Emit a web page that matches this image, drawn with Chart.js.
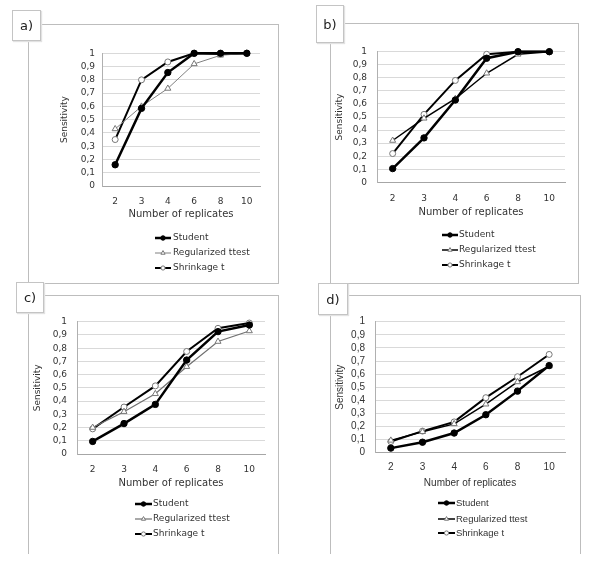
<!DOCTYPE html>
<html>
<head>
<meta charset="utf-8">
<script src="https://cdn.jsdelivr.net/npm/chart.js@4.4.1/dist/chart.umd.min.js"></script>
<style>
  html, body { margin: 0; padding: 0; background: #fff; }
  #page { position: relative; width: 600px; height: 562px; overflow: hidden; }
  .marco { position: absolute; border: 1px solid #bdbdbd; box-sizing: border-box; }
  .etiqueta { position: absolute; border: 1px solid #c4c4c4; background: #fff; box-sizing: border-box;
              font: 13px "DejaVu Sans"; color: #222; display: flex; align-items: center; justify-content: center;
              box-shadow: 1px 1px 1px #e2e2e2; }
  canvas { position: absolute; left: 0; top: 0; }
</style>
</head>
<body>
<div id="page">
  <div class="marco" style="left:28px;top:24px;width:251px;height:260px"></div>
  <div class="marco" style="left:330px;top:23px;width:249px;height:261px"></div>
  <div class="marco" style="left:28px;top:295px;width:251px;height:259px;border-bottom:none"></div>
  <div class="marco" style="left:330px;top:295px;width:251px;height:259px;border-bottom:none"></div>

  <canvas id="panelA" width="600" height="562"></canvas>
  <canvas id="panelB" width="600" height="562"></canvas>
  <canvas id="panelC" width="600" height="562"></canvas>
  <canvas id="panelD" width="600" height="562"></canvas>

  <div class="etiqueta" style="left:12px;top:10px;width:29px;height:31px">a)</div>
  <div class="etiqueta" style="left:316px;top:5px;width:28px;height:38px">b)</div>
  <div class="etiqueta" style="left:16px;top:282px;width:28px;height:31px">c)</div>
  <div class="etiqueta" style="left:318px;top:283px;width:30px;height:32px">d)</div>
</div>
<script>
// --- DATOS ---
const replicas = ['2', '3', '4', '6', '8', '10'];
const seriesNombres = ['Student', 'Regularized ttest', 'Shrinkage t'];

const studentA = [0.16, 0.585, 0.855, 1, 1, 1];
const regA     = [0.43, 0.60, 0.735, 0.92, 0.985, 1];
const shrinkA  = [0.35, 0.80, 0.935, 1, 0.995, 1];

const studentB = [0.105, 0.34, 0.63, 0.95, 1, 1];
const regB     = [0.32, 0.49, 0.64, 0.835, 0.98, 1];
const shrinkB  = [0.22, 0.52, 0.78, 0.98, 1, 1];

const studentC = [0.095, 0.23, 0.375, 0.71, 0.925, 0.975];
const regC     = [0.20, 0.32, 0.455, 0.66, 0.85, 0.93];
const shrinkC  = [0.19, 0.355, 0.515, 0.775, 0.95, 0.99];

const studentD = [0.035, 0.08, 0.15, 0.29, 0.47, 0.665];
const regD     = [0.094, 0.16, 0.22, 0.37, 0.54, 0.66];
const shrinkD  = [0.085, 0.165, 0.235, 0.42, 0.58, 0.75];

const TEXTO = '#333';
const W = 600, H = 562;

// marcador de la leyenda (mismo estilo que los puntos, algo más pequeño)
function dibujarMarcador(ctx, estilo, r, x, y) {
    ctx.beginPath();
    if (estilo === 'triangle') {
        for (let k = 0; k < 3; k++) {
            const a = -Math.PI / 2 + k * 2 * Math.PI / 3;
            const px = x + Math.cos(a) * r, py = y + Math.sin(a) * r;
            k === 0 ? ctx.moveTo(px, py) : ctx.lineTo(px, py);
        }
        ctx.closePath();
    } else {
        ctx.arc(x, y, r, 0, Math.PI * 2);
    }
    ctx.fill();
    ctx.stroke();
}

const leyendaPlugin = {
    id: 'leyendaExcel',
    afterDraw(chart) {
        const g = chart.options.plugins.leyendaExcel;
        const ctx = chart.ctx;
        ctx.save();
        chart.data.datasets.forEach((ds, i) => {
            const y = g.ys[i];
            ctx.strokeStyle = ds.borderColor;
            ctx.lineWidth = ds.borderWidth;
            ctx.beginPath(); ctx.moveTo(g.x1, y); ctx.lineTo(g.x2, y); ctx.stroke();
            ctx.fillStyle = ds.pointBackgroundColor;
            ctx.strokeStyle = ds.pointBorderColor;
            ctx.lineWidth = ds.pointBorderWidth;
            dibujarMarcador(ctx, ds.pointStyle, ds.pointRadius * 0.7, (g.x1 + g.x2) / 2, y);
            ctx.fillStyle = TEXTO;
            ctx.font = g.size + 'px ' + g.family;
            ctx.textBaseline = 'middle';
            ctx.textAlign = 'left';
            ctx.fillText(ds.label, g.xt, y);
        });
        ctx.restore();
    }
};

function formatoEje(v) {
    const r = Math.round(v * 10) / 10;
    return (r === 0 || r === 1) ? String(r) : r.toFixed(1).replace('.', ',');
}

function crearPanel(id, g, valores, estilo) {
    const fTick = estilo.tick, fX = estilo.xTitle, fY = estilo.yTitle;
    const padLeft = g.yTitleX - 0.6 * fY;
    const xBottom = g.xTitleY + 0.6 * fX;
    new Chart(document.getElementById(id), {
        type: 'line',
        data: {
            labels: replicas,
            datasets: [{
                label: seriesNombres[0], data: valores[0],
                borderColor: '#000', borderWidth: 2.5,
                pointStyle: 'circle', pointRadius: 3.2,
                pointBackgroundColor: '#000', pointBorderColor: '#000', pointBorderWidth: 1
            }, {
                label: seriesNombres[1], data: valores[1],
                borderColor: estilo.regColor, borderWidth: estilo.regWidth,
                pointStyle: 'triangle', pointRadius: 3.5,
                pointBackgroundColor: '#fff', pointBorderColor: '#777', pointBorderWidth: 1
            }, {
                label: seriesNombres[2], data: valores[2],
                borderColor: '#000', borderWidth: 2,
                pointStyle: 'circle', pointRadius: 3,
                pointBackgroundColor: '#fff', pointBorderColor: '#777', pointBorderWidth: 1
            }]
        },
        options: {
            responsive: false,
            animation: false,
            events: [],
            datasets: { line: { tension: 0, clip: false } },
            layout: { padding: { left: padLeft, top: g.T, right: W - g.R, bottom: H - xBottom } },
            plugins: {
                legend: { display: false },
                tooltip: { enabled: false },
                leyendaExcel: { ys: g.legY, x1: g.legX1, x2: g.legX2, xt: g.legText, size: estilo.legend, family: estilo.family }
            },
            scales: {
                x: {
                    offset: true,
                    grid: { display: false, drawTicks: false },
                    border: { display: true, color: '#a6a6a6', width: 1 },
                    ticks: { color: TEXTO, autoSkip: false, maxRotation: 0,
                             padding: g.xLabelY - g.B - 0.6 * fTick, font: { family: estilo.family, size: fTick } },
                    title: { display: true, text: 'Number of replicates', color: TEXTO, padding: 0, font: { family: estilo.family, size: fX } },
                    afterFit: s => { s.height = xBottom - g.B; }
                },
                y: {
                    min: 0, max: 1,
                    grid: { color: '#d9d9d9', drawTicks: false },
                    border: { display: true, color: '#b0b0b0', width: 1 },
                    ticks: { stepSize: 0.1, autoSkip: false, color: TEXTO, padding: g.L - g.yLabelRight, callback: formatoEje,
                             font: { family: estilo.family, size: fTick } },
                    title: { display: true, text: 'Sensitivity', color: TEXTO, padding: 0, font: { family: estilo.family, size: fY } },
                    afterFit: s => { s.width = g.L - padLeft; }
                }
            }
        },
        plugins: [leyendaPlugin]
    });
}

const verdana = { family: '"DejaVu Sans"', tick: 9, xTitle: 10, yTitle: 9, legend: 9 };

crearPanel('panelA',
    { L: 102, R: 260, T: 53.3, B: 186, yLabelRight: 95, xLabelY: 202, xTitleY: 214, yTitleX: 65,
      legY: [238, 253, 268], legX1: 155, legX2: 171, legText: 173 },
    [studentA, regA, shrinkA], Object.assign({ regColor: '#808080', regWidth: 1 }, verdana));

crearPanel('panelB',
    { L: 377, R: 565, T: 51.7, B: 182.3, yLabelRight: 367, xLabelY: 199, xTitleY: 212, yTitleX: 340,
      legY: [235, 250, 265], legX1: 442, legX2: 458, legText: 459 },
    [studentB, regB, shrinkB], Object.assign({ regColor: '#000', regWidth: 1.5 }, verdana));

crearPanel('panelC',
    { L: 77, R: 265, T: 321.7, B: 454, yLabelRight: 67, xLabelY: 470, xTitleY: 483, yTitleX: 38,
      legY: [504, 519, 534], legX1: 135, legX2: 152, legText: 153 },
    [studentC, regC, shrinkC], Object.assign({ regColor: '#707070', regWidth: 1.2 }, verdana));

crearPanel('panelD',
    { L: 375, R: 565, T: 321.7, B: 452.7, yLabelRight: 365, xLabelY: 467, xTitleY: 483, yTitleX: 340,
      legY: [503, 519, 533], legX1: 438, legX2: 455, legText: 456 },
    [studentD, regD, shrinkD],
    { family: '"Liberation Sans"', tick: 10, xTitle: 10, yTitle: 10, legend: 9.5, regColor: '#000', regWidth: 1.5 });
</script>
</body>
</html>
